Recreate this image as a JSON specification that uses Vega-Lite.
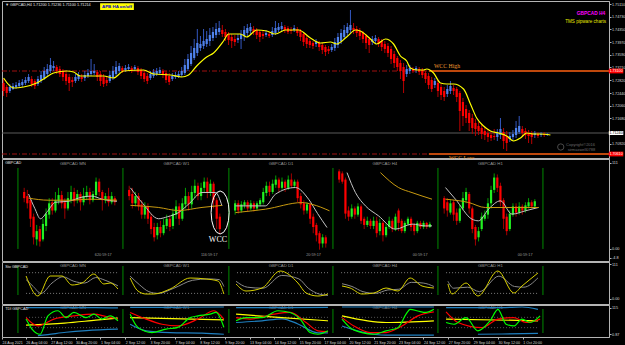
{
"$schema": "https://vega.github.io/schema/vega-lite/v6.json",
"background": "#000000",
"padding": 0,
"bounds": "flush",
"spacing": 1,
"config": {
 "view": {"stroke": "#b4b4b4", "strokeWidth": 1},
 "axis": {"grid": false, "labelFont": "Liberation Sans", "labelColor": "#d8d8d8", "domainColor": "#b4b4b4", "tickColor": "#b4b4b4", "title": null, "tickSize": 2, "labelPadding": 0.5, "labelFontSize": 3.8, "labelOverlap": false, "labelBound": false, "labelFlush": false, "tickCount": 60},
 "text": {"font": "Liberation Sans"}
},
"resolve": {"scale": {"x": "independent", "y": "independent", "color": "independent"}},
"datasets": {
 "hc": [
{"i":0,"o":1.7274,"c":1.7250,"h":1.7286,"l":1.7235},
{"i":1,"o":1.7262,"c":1.7244,"h":1.7268,"l":1.7232},
{"i":2,"o":1.7250,"c":1.7262,"h":1.7271,"l":1.7244},
{"i":3,"o":1.7256,"c":1.7265,"h":1.7274,"l":1.7253},
{"i":4,"o":1.7262,"c":1.7268,"h":1.7277,"l":1.7256},
{"i":5,"o":1.7265,"c":1.7274,"h":1.7283,"l":1.7259},
{"i":6,"o":1.7268,"c":1.7277,"h":1.7286,"l":1.7262},
{"i":7,"o":1.7274,"c":1.7283,"h":1.7292,"l":1.7268},
{"i":8,"o":1.7280,"c":1.7292,"h":1.7301,"l":1.7274},
{"i":9,"o":1.7286,"c":1.7271,"h":1.7295,"l":1.7262},
{"i":10,"o":1.7280,"c":1.7265,"h":1.7286,"l":1.7256},
{"i":11,"o":1.7271,"c":1.7286,"h":1.7295,"l":1.7265},
{"i":12,"o":1.7280,"c":1.7298,"h":1.7310,"l":1.7274},
{"i":13,"o":1.7289,"c":1.7310,"h":1.7322,"l":1.7283},
{"i":14,"o":1.7301,"c":1.7316,"h":1.7331,"l":1.7295},
{"i":15,"o":1.7310,"c":1.7328,"h":1.7349,"l":1.7304},
{"i":16,"o":1.7319,"c":1.7325,"h":1.7340,"l":1.7310},
{"i":17,"o":1.7322,"c":1.7310,"h":1.7328,"l":1.7301},
{"i":18,"o":1.7316,"c":1.7301,"h":1.7325,"l":1.7292},
{"i":19,"o":1.7310,"c":1.7292,"h":1.7316,"l":1.7280},
{"i":20,"o":1.7301,"c":1.7280,"h":1.7310,"l":1.7268},
{"i":21,"o":1.7292,"c":1.7274,"h":1.7301,"l":1.7250},
{"i":22,"o":1.7283,"c":1.7277,"h":1.7292,"l":1.7262},
{"i":23,"o":1.7280,"c":1.7292,"h":1.7301,"l":1.7274},
{"i":24,"o":1.7286,"c":1.7298,"h":1.7307,"l":1.7280},
{"i":25,"o":1.7292,"c":1.7286,"h":1.7301,"l":1.7277},
{"i":26,"o":1.7289,"c":1.7298,"h":1.7310,"l":1.7280},
{"i":27,"o":1.7295,"c":1.7304,"h":1.7316,"l":1.7289},
{"i":28,"o":1.7301,"c":1.7310,"h":1.7346,"l":1.7295},
{"i":29,"o":1.7304,"c":1.7310,"h":1.7331,"l":1.7298},
{"i":30,"o":1.7307,"c":1.7292,"h":1.7313,"l":1.7280},
{"i":31,"o":1.7301,"c":1.7280,"h":1.7310,"l":1.7265},
{"i":32,"o":1.7292,"c":1.7271,"h":1.7301,"l":1.7262},
{"i":33,"o":1.7283,"c":1.7274,"h":1.7292,"l":1.7265},
{"i":34,"o":1.7280,"c":1.7298,"h":1.7310,"l":1.7274},
{"i":35,"o":1.7289,"c":1.7310,"h":1.7325,"l":1.7283},
{"i":36,"o":1.7301,"c":1.7322,"h":1.7340,"l":1.7295},
{"i":37,"o":1.7310,"c":1.7325,"h":1.7334,"l":1.7304},
{"i":38,"o":1.7319,"c":1.7310,"h":1.7325,"l":1.7304},
{"i":39,"o":1.7313,"c":1.7319,"h":1.7328,"l":1.7307},
{"i":40,"o":1.7316,"c":1.7322,"h":1.7331,"l":1.7310},
{"i":41,"o":1.7319,"c":1.7313,"h":1.7325,"l":1.7304},
{"i":42,"o":1.7316,"c":1.7322,"h":1.7328,"l":1.7310},
{"i":43,"o":1.7319,"c":1.7307,"h":1.7325,"l":1.7298},
{"i":44,"o":1.7313,"c":1.7295,"h":1.7319,"l":1.7286},
{"i":45,"o":1.7304,"c":1.7286,"h":1.7310,"l":1.7277},
{"i":46,"o":1.7295,"c":1.7280,"h":1.7304,"l":1.7271},
{"i":47,"o":1.7289,"c":1.7301,"h":1.7310,"l":1.7283},
{"i":48,"o":1.7295,"c":1.7307,"h":1.7316,"l":1.7289},
{"i":49,"o":1.7301,"c":1.7310,"h":1.7319,"l":1.7295},
{"i":50,"o":1.7304,"c":1.7313,"h":1.7322,"l":1.7298},
{"i":51,"o":1.7310,"c":1.7298,"h":1.7316,"l":1.7289},
{"i":52,"o":1.7304,"c":1.7283,"h":1.7310,"l":1.7274},
{"i":53,"o":1.7295,"c":1.7277,"h":1.7304,"l":1.7268},
{"i":54,"o":1.7286,"c":1.7295,"h":1.7304,"l":1.7280},
{"i":55,"o":1.7292,"c":1.7298,"h":1.7307,"l":1.7286},
{"i":56,"o":1.7295,"c":1.7301,"h":1.7310,"l":1.7289},
{"i":57,"o":1.7298,"c":1.7310,"h":1.7322,"l":1.7292},
{"i":58,"o":1.7304,"c":1.7328,"h":1.7346,"l":1.7298},
{"i":59,"o":1.7316,"c":1.7346,"h":1.7361,"l":1.7310},
{"i":60,"o":1.7331,"c":1.7364,"h":1.7385,"l":1.7325},
{"i":61,"o":1.7349,"c":1.7379,"h":1.7406,"l":1.7343},
{"i":62,"o":1.7364,"c":1.7394,"h":1.7436,"l":1.7355},
{"i":63,"o":1.7379,"c":1.7391,"h":1.7415,"l":1.7370},
{"i":64,"o":1.7385,"c":1.7400,"h":1.7436,"l":1.7376},
{"i":65,"o":1.7391,"c":1.7406,"h":1.7430,"l":1.7382},
{"i":66,"o":1.7400,"c":1.7418,"h":1.7439,"l":1.7385},
{"i":67,"o":1.7409,"c":1.7427,"h":1.7442,"l":1.7400},
{"i":68,"o":1.7418,"c":1.7436,"h":1.7454,"l":1.7409},
{"i":69,"o":1.7427,"c":1.7439,"h":1.7460,"l":1.7418},
{"i":70,"o":1.7433,"c":1.7421,"h":1.7448,"l":1.7412},
{"i":71,"o":1.7427,"c":1.7412,"h":1.7436,"l":1.7400},
{"i":72,"o":1.7421,"c":1.7403,"h":1.7427,"l":1.7388},
{"i":73,"o":1.7412,"c":1.7400,"h":1.7421,"l":1.7379},
{"i":74,"o":1.7406,"c":1.7397,"h":1.7418,"l":1.7385},
{"i":75,"o":1.7403,"c":1.7409,"h":1.7421,"l":1.7394},
{"i":76,"o":1.7406,"c":1.7421,"h":1.7433,"l":1.7376},
{"i":77,"o":1.7415,"c":1.7433,"h":1.7445,"l":1.7400},
{"i":78,"o":1.7424,"c":1.7439,"h":1.7451,"l":1.7415},
{"i":79,"o":1.7430,"c":1.7442,"h":1.7454,"l":1.7421},
{"i":80,"o":1.7436,"c":1.7427,"h":1.7445,"l":1.7418},
{"i":81,"o":1.7433,"c":1.7418,"h":1.7439,"l":1.7406},
{"i":82,"o":1.7427,"c":1.7412,"h":1.7433,"l":1.7397},
{"i":83,"o":1.7421,"c":1.7415,"h":1.7430,"l":1.7406},
{"i":84,"o":1.7418,"c":1.7424,"h":1.7433,"l":1.7412},
{"i":85,"o":1.7421,"c":1.7415,"h":1.7427,"l":1.7409},
{"i":86,"o":1.7418,"c":1.7430,"h":1.7442,"l":1.7412},
{"i":87,"o":1.7424,"c":1.7439,"h":1.7460,"l":1.7418},
{"i":88,"o":1.7433,"c":1.7442,"h":1.7454,"l":1.7427},
{"i":89,"o":1.7436,"c":1.7445,"h":1.7457,"l":1.7430},
{"i":90,"o":1.7442,"c":1.7433,"h":1.7448,"l":1.7424},
{"i":91,"o":1.7439,"c":1.7427,"h":1.7445,"l":1.7421},
{"i":92,"o":1.7433,"c":1.7430,"h":1.7442,"l":1.7421},
{"i":93,"o":1.7433,"c":1.7439,"h":1.7448,"l":1.7427},
{"i":94,"o":1.7436,"c":1.7424,"h":1.7442,"l":1.7415},
{"i":95,"o":1.7430,"c":1.7412,"h":1.7436,"l":1.7400},
{"i":96,"o":1.7421,"c":1.7397,"h":1.7427,"l":1.7385},
{"i":97,"o":1.7409,"c":1.7391,"h":1.7415,"l":1.7379},
{"i":98,"o":1.7400,"c":1.7388,"h":1.7406,"l":1.7379},
{"i":99,"o":1.7394,"c":1.7385,"h":1.7400,"l":1.7376},
{"i":100,"o":1.7391,"c":1.7397,"h":1.7406,"l":1.7382},
{"i":101,"o":1.7394,"c":1.7382,"h":1.7400,"l":1.7370},
{"i":102,"o":1.7388,"c":1.7373,"h":1.7394,"l":1.7361},
{"i":103,"o":1.7382,"c":1.7367,"h":1.7388,"l":1.7355},
{"i":104,"o":1.7376,"c":1.7370,"h":1.7385,"l":1.7361},
{"i":105,"o":1.7373,"c":1.7382,"h":1.7391,"l":1.7367},
{"i":106,"o":1.7379,"c":1.7397,"h":1.7409,"l":1.7370},
{"i":107,"o":1.7388,"c":1.7412,"h":1.7424,"l":1.7379},
{"i":108,"o":1.7400,"c":1.7424,"h":1.7436,"l":1.7391},
{"i":109,"o":1.7412,"c":1.7433,"h":1.7448,"l":1.7406},
{"i":110,"o":1.7424,"c":1.7442,"h":1.7454,"l":1.7415},
{"i":111,"o":1.7433,"c":1.7448,"h":1.7493,"l":1.7424},
{"i":112,"o":1.7439,"c":1.7433,"h":1.7454,"l":1.7421},
{"i":113,"o":1.7436,"c":1.7424,"h":1.7445,"l":1.7412},
{"i":114,"o":1.7430,"c":1.7415,"h":1.7439,"l":1.7403},
{"i":115,"o":1.7424,"c":1.7406,"h":1.7430,"l":1.7394},
{"i":116,"o":1.7415,"c":1.7394,"h":1.7421,"l":1.7376},
{"i":117,"o":1.7406,"c":1.7388,"h":1.7412,"l":1.7364},
{"i":118,"o":1.7397,"c":1.7406,"h":1.7415,"l":1.7388},
{"i":119,"o":1.7400,"c":1.7409,"h":1.7418,"l":1.7391},
{"i":120,"o":1.7406,"c":1.7391,"h":1.7412,"l":1.7382},
{"i":121,"o":1.7400,"c":1.7382,"h":1.7406,"l":1.7370},
{"i":122,"o":1.7391,"c":1.7376,"h":1.7400,"l":1.7364},
{"i":123,"o":1.7385,"c":1.7364,"h":1.7394,"l":1.7352},
{"i":124,"o":1.7376,"c":1.7346,"h":1.7385,"l":1.7331},
{"i":125,"o":1.7361,"c":1.7334,"h":1.7370,"l":1.7319},
{"i":126,"o":1.7349,"c":1.7322,"h":1.7355,"l":1.7310},
{"i":127,"o":1.7334,"c":1.7310,"h":1.7343,"l":1.7286},
{"i":128,"o":1.7322,"c":1.7280,"h":1.7334,"l":1.7244},
{"i":129,"o":1.7301,"c":1.7316,"h":1.7328,"l":1.7292},
{"i":130,"o":1.7310,"c":1.7319,"h":1.7328,"l":1.7301},
{"i":131,"o":1.7316,"c":1.7310,"h":1.7322,"l":1.7304},
{"i":132,"o":1.7313,"c":1.7319,"h":1.7325,"l":1.7304},
{"i":133,"o":1.7316,"c":1.7307,"h":1.7322,"l":1.7298},
{"i":134,"o":1.7313,"c":1.7298,"h":1.7319,"l":1.7289},
{"i":135,"o":1.7304,"c":1.7286,"h":1.7310,"l":1.7274},
{"i":136,"o":1.7295,"c":1.7268,"h":1.7304,"l":1.7256},
{"i":137,"o":1.7283,"c":1.7256,"h":1.7292,"l":1.7247},
{"i":138,"o":1.7268,"c":1.7280,"h":1.7289,"l":1.7259},
{"i":139,"o":1.7274,"c":1.7250,"h":1.7283,"l":1.7232},
{"i":140,"o":1.7262,"c":1.7238,"h":1.7271,"l":1.7223},
{"i":141,"o":1.7250,"c":1.7232,"h":1.7262,"l":1.7220},
{"i":142,"o":1.7241,"c":1.7256,"h":1.7268,"l":1.7232},
{"i":143,"o":1.7250,"c":1.7265,"h":1.7280,"l":1.7241},
{"i":144,"o":1.7259,"c":1.7250,"h":1.7268,"l":1.7238},
{"i":145,"o":1.7256,"c":1.7232,"h":1.7262,"l":1.7217},
{"i":146,"o":1.7244,"c":1.7190,"h":1.7250,"l":1.7130},
{"i":147,"o":1.7217,"c":1.7175,"h":1.7229,"l":1.7145},
{"i":148,"o":1.7196,"c":1.7169,"h":1.7208,"l":1.7154},
{"i":149,"o":1.7184,"c":1.7154,"h":1.7193,"l":1.7130},
{"i":150,"o":1.7169,"c":1.7139,"h":1.7181,"l":1.7121},
{"i":151,"o":1.7154,"c":1.7136,"h":1.7166,"l":1.7115},
{"i":152,"o":1.7145,"c":1.7130,"h":1.7157,"l":1.7118},
{"i":153,"o":1.7139,"c":1.7121,"h":1.7151,"l":1.7106},
{"i":154,"o":1.7130,"c":1.7118,"h":1.7142,"l":1.7103},
{"i":155,"o":1.7124,"c":1.7112,"h":1.7136,"l":1.7097},
{"i":156,"o":1.7118,"c":1.7109,"h":1.7130,"l":1.7100},
{"i":157,"o":1.7115,"c":1.7112,"h":1.7136,"l":1.7103},
{"i":158,"o":1.7112,"c":1.7124,"h":1.7136,"l":1.7100},
{"i":159,"o":1.7118,"c":1.7136,"h":1.7169,"l":1.7106},
{"i":160,"o":1.7127,"c":1.7100,"h":1.7139,"l":1.7076},
{"i":161,"o":1.7115,"c":1.7094,"h":1.7130,"l":1.7070},
{"i":162,"o":1.7106,"c":1.7115,"h":1.7127,"l":1.7097},
{"i":163,"o":1.7112,"c":1.7121,"h":1.7133,"l":1.7100},
{"i":164,"o":1.7118,"c":1.7139,"h":1.7160,"l":1.7109},
{"i":165,"o":1.7127,"c":1.7145,"h":1.7175,"l":1.7121},
{"i":166,"o":1.7136,"c":1.7124,"h":1.7145,"l":1.7112},
{"i":167,"o":1.7130,"c":1.7118,"h":1.7139,"l":1.7106},
{"i":168,"o":1.7124,"c":1.7115,"h":1.7133,"l":1.7094},
{"i":169,"o":1.7121,"c":1.7112,"h":1.7130,"l":1.7091},
{"i":170,"o":1.7118,"c":1.7124,"h":1.7130,"l":1.7109},
{"i":171,"o":1.7121,"c":1.7115,"h":1.7127,"l":1.7109},
{"i":172,"o":1.7118,"c":1.7121,"h":1.7127,"l":1.7112},
{"i":173,"o":1.7121,"c":1.7118,"h":1.7127,"l":1.7112},
{"i":174,"o":1.7118,"c":1.7121,"h":1.7124,"l":1.7115}
 ],
 "ma": [
{"i":0,"v":1.7289},{"i":3.2,"v":1.7259},{"i":6.4,"v":1.7262},{"i":10.6,"v":1.7274},{"i":12.8,"v":1.7286},{"i":16,"v":1.7304},{"i":20.2,"v":1.7310},{"i":22.4,"v":1.7307},{"i":24.6,"v":1.7295},{"i":28.8,"v":1.7295},{"i":32,"v":1.7295},{"i":35.2,"v":1.7289},{"i":38.4,"v":1.7310},{"i":44.8,"v":1.7313},{"i":48,"v":1.7301},{"i":53.4,"v":1.7298},{"i":57,"v":1.7292},{"i":59.2,"v":1.7298},{"i":61.8,"v":1.7325},{"i":65,"v":1.7352},{"i":67.2,"v":1.7364},{"i":70.4,"v":1.7400},{"i":72,"v":1.7421},{"i":75.8,"v":1.7421},{"i":77.8,"v":1.7412},{"i":81,"v":1.7433},{"i":84.2,"v":1.7430},{"i":87,"v":1.7421},{"i":90.2,"v":1.7433},{"i":94.4,"v":1.7433},{"i":98.2,"v":1.7409},{"i":101.4,"v":1.7394},{"i":104.6,"v":1.7397},{"i":106.6,"v":1.7391},{"i":109.8,"v":1.7412},{"i":112.6,"v":1.7433},{"i":114.2,"v":1.7430},{"i":117.4,"v":1.7406},{"i":119.4,"v":1.7391},{"i":122.2,"v":1.7406},{"i":124.8,"v":1.7391},{"i":127,"v":1.7355},{"i":129,"v":1.7340},{"i":130.2,"v":1.7319},{"i":132.2,"v":1.7313},{"i":134.4,"v":1.7313},{"i":135.4,"v":1.7316},{"i":137.6,"v":1.7304},{"i":139.8,"v":1.7274},{"i":141.8,"v":1.7271},{"i":144,"v":1.7271},{"i":147.2,"v":1.7256},{"i":149.4,"v":1.7211},{"i":151.4,"v":1.7169},{"i":153.6,"v":1.7145},{"i":155.8,"v":1.7130},{"i":158.4,"v":1.7124},{"i":161,"v":1.7115},{"i":163.2,"v":1.7100},{"i":165.4,"v":1.7109},{"i":167.4,"v":1.7124},{"i":169.6,"v":1.7121},{"i":171.8,"v":1.7121},{"i":175,"v":1.7118}
 ],
 "mc": [
{"x":7.1,"o":66,"c":60,"h":70,"l":56},{"x":8.1,"o":62,"c":55,"h":68,"l":50},{"x":9.1,"o":58,"c":40,"h":60,"l":32},{"x":10.1,"o":42,"c":22,"h":45,"l":15},{"x":11.1,"o":20,"c":28,"h":34,"l":14},{"x":12.1,"o":30,"c":18,"h":33,"l":13},{"x":13.1,"o":20,"c":35,"h":40,"l":18},{"x":14.1,"o":33,"c":45,"h":50,"l":28},{"x":15.1,"o":44,"c":55,"h":60,"l":40},{"x":16.1,"o":56,"c":48,"h":60,"l":44},{"x":17.1,"o":48,"c":58,"h":66,"l":46},{"x":18.1,"o":57,"c":63,"h":70,"l":54},{"x":19.1,"o":63,"c":55,"h":67,"l":50},{"x":20.1,"o":56,"c":50,"h":60,"l":40},{"x":21.1,"o":50,"c":60,"h":66,"l":48},{"x":22.1,"o":58,"c":66,"h":72,"l":55},{"x":23.1,"o":66,"c":57,"h":70,"l":52},{"x":24.1,"o":58,"c":64,"h":68,"l":55},{"x":25.1,"o":64,"c":56,"h":66,"l":48},{"x":26.1,"o":56,"c":62,"h":70,"l":53},{"x":27.1,"o":61,"c":66,"h":72,"l":58},{"x":28.1,"o":66,"c":58,"h":70,"l":54},{"x":29.1,"o":58,"c":64,"h":67,"l":56},{"x":30.1,"o":63,"c":76,"h":80,"l":60},{"x":31.1,"o":76,"c":66,"h":79,"l":62},{"x":32.1,"o":66,"c":58,"h":68,"l":48},{"x":33.1,"o":58,"c":62,"h":65,"l":55},{"x":34.1,"o":62,"c":56,"h":70,"l":52},{"x":35.1,"o":56,"c":62,"h":66,"l":54},{"x":36.1,"o":60,"c":56,"h":62,"l":53},
{"x":40.7,"o":68,"c":62,"h":72,"l":58},{"x":41.7,"o":64,"c":55,"h":70,"l":50},{"x":42.7,"o":55,"c":62,"h":66,"l":52},{"x":43.7,"o":62,"c":52,"h":65,"l":48},{"x":44.7,"o":54,"c":44,"h":58,"l":40},{"x":45.7,"o":44,"c":52,"h":56,"l":40},{"x":46.7,"o":52,"c":40,"h":55,"l":35},{"x":47.7,"o":42,"c":30,"h":45,"l":25},{"x":48.7,"o":32,"c":22,"h":36,"l":18},{"x":49.7,"o":24,"c":32,"h":36,"l":20},{"x":50.7,"o":32,"c":26,"h":38,"l":22},{"x":51.7,"o":26,"c":34,"h":40,"l":24},{"x":52.7,"o":33,"c":40,"h":44,"l":30},{"x":53.7,"o":40,"c":32,"h":43,"l":28},{"x":54.7,"o":33,"c":45,"h":50,"l":30},{"x":55.7,"o":44,"c":52,"h":58,"l":40},{"x":56.7,"o":52,"c":40,"h":55,"l":34},{"x":57.7,"o":40,"c":55,"h":60,"l":38},{"x":58.7,"o":54,"c":62,"h":70,"l":50},{"x":59.7,"o":62,"c":54,"h":66,"l":48},{"x":60.7,"o":54,"c":66,"h":72,"l":50},{"x":61.7,"o":65,"c":72,"h":78,"l":60},{"x":62.7,"o":72,"c":62,"h":75,"l":58},{"x":63.7,"o":62,"c":70,"h":75,"l":58},{"x":64.7,"o":70,"c":76,"h":80,"l":66},{"x":65.7,"o":76,"c":66,"h":80,"l":60},{"x":66.7,"o":66,"c":74,"h":78,"l":62},{"x":67.7,"o":74,"c":58,"h":76,"l":50},{"x":68.7,"o":58,"c":40,"h":60,"l":30},{"x":69.7,"o":42,"c":30,"h":45,"l":25},
{"x":74.6,"o":48,"c":55,"h":58,"l":44},{"x":75.6,"o":55,"c":48,"h":58,"l":45},{"x":76.6,"o":48,"c":54,"h":57,"l":46},{"x":77.6,"o":53,"c":56,"h":58,"l":50},{"x":78.6,"o":56,"c":50,"h":58,"l":47},{"x":79.6,"o":50,"c":55,"h":58,"l":48},{"x":80.6,"o":55,"c":50,"h":57,"l":47},{"x":81.6,"o":50,"c":55,"h":57,"l":48},{"x":82.6,"o":54,"c":58,"h":60,"l":52},{"x":83.6,"o":56,"c":66,"h":70,"l":54},{"x":84.6,"o":65,"c":72,"h":76,"l":62},{"x":85.6,"o":72,"c":66,"h":76,"l":62},{"x":86.6,"o":66,"c":74,"h":78,"l":64},{"x":87.6,"o":73,"c":78,"h":82,"l":70},{"x":88.6,"o":78,"c":70,"h":80,"l":66},{"x":89.6,"o":70,"c":76,"h":80,"l":68},{"x":90.6,"o":76,"c":70,"h":78,"l":66},{"x":91.6,"o":70,"c":78,"h":82,"l":68},{"x":92.6,"o":78,"c":72,"h":84,"l":70},{"x":93.6,"o":72,"c":76,"h":78,"l":70},{"x":94.6,"o":76,"c":60,"h":78,"l":56},{"x":95.6,"o":62,"c":54,"h":65,"l":50},{"x":96.6,"o":55,"c":48,"h":58,"l":44},{"x":97.6,"o":48,"c":54,"h":56,"l":45},{"x":98.6,"o":54,"c":40,"h":56,"l":35},{"x":99.6,"o":42,"c":32,"h":45,"l":26},{"x":100.6,"o":34,"c":24,"h":36,"l":18},{"x":101.6,"o":26,"c":16,"h":28,"l":10},{"x":102.6,"o":16,"c":22,"h":25,"l":12},{"x":103.6,"o":22,"c":16,"h":24,"l":12},
{"x":107.9,"o":86,"c":78,"h":88,"l":75},{"x":108.9,"o":84,"c":76,"h":86,"l":74},{"x":109.9,"o":78,"c":45,"h":80,"l":40},{"x":110.9,"o":48,"c":42,"h":52,"l":38},{"x":111.9,"o":42,"c":50,"h":54,"l":40},{"x":112.9,"o":50,"c":44,"h":52,"l":40},{"x":113.9,"o":44,"c":52,"h":55,"l":42},{"x":114.9,"o":52,"c":38,"h":54,"l":35},{"x":115.9,"o":40,"c":34,"h":42,"l":30},{"x":116.9,"o":34,"c":38,"h":42,"l":32},{"x":117.9,"o":38,"c":33,"h":40,"l":30},{"x":118.9,"o":33,"c":38,"h":42,"l":30},{"x":119.9,"o":38,"c":26,"h":42,"l":22},{"x":120.9,"o":28,"c":36,"h":40,"l":24},{"x":121.9,"o":36,"c":24,"h":38,"l":18},{"x":122.9,"o":24,"c":32,"h":35,"l":22},{"x":123.9,"o":32,"c":38,"h":42,"l":30},{"x":124.9,"o":38,"c":30,"h":40,"l":27},{"x":125.9,"o":30,"c":42,"h":45,"l":28},{"x":126.9,"o":48,"c":36,"h":50,"l":28},{"x":127.9,"o":38,"c":28,"h":40,"l":26},{"x":128.9,"o":28,"c":36,"h":38,"l":26},{"x":129.9,"o":35,"c":40,"h":42,"l":33},{"x":130.9,"o":40,"c":32,"h":42,"l":28},{"x":131.9,"o":34,"c":28,"h":36,"l":24},{"x":132.9,"o":28,"c":36,"h":38,"l":26},{"x":133.9,"o":36,"c":32,"h":38,"l":30},{"x":134.9,"o":32,"c":36,"h":38,"l":30},{"x":135.9,"o":36,"c":32,"h":37,"l":30},{"x":136.9,"o":32,"c":35,"h":37,"l":31},
{"x":141.5,"o":60,"c":50,"h":62,"l":45},{"x":142.5,"o":56,"c":48,"h":60,"l":42},{"x":143.5,"o":46,"c":55,"h":58,"l":44},{"x":144.5,"o":56,"c":44,"h":58,"l":38},{"x":145.5,"o":46,"c":38,"h":50,"l":34},{"x":146.5,"o":38,"c":50,"h":54,"l":36},{"x":147.5,"o":50,"c":60,"h":66,"l":48},{"x":148.5,"o":58,"c":66,"h":70,"l":55},{"x":149.5,"o":64,"c":50,"h":66,"l":45},{"x":150.5,"o":50,"c":30,"h":52,"l":26},{"x":151.5,"o":32,"c":20,"h":34,"l":14},{"x":152.5,"o":22,"c":28,"h":32,"l":18},{"x":153.5,"o":30,"c":42,"h":46,"l":28},{"x":154.5,"o":40,"c":44,"h":48,"l":38},{"x":155.5,"o":44,"c":55,"h":60,"l":40},{"x":156.5,"o":55,"c":68,"h":72,"l":50},{"x":157.5,"o":68,"c":80,"h":84,"l":65},{"x":158.5,"o":80,"c":70,"h":83,"l":66},{"x":159.5,"o":72,"c":56,"h":75,"l":52},{"x":160.5,"o":58,"c":40,"h":60,"l":30},{"x":161.5,"o":42,"c":28,"h":45,"l":24},{"x":162.5,"o":30,"c":45,"h":48,"l":28},{"x":163.5,"o":44,"c":52,"h":55,"l":42},{"x":164.5,"o":52,"c":46,"h":55,"l":42},{"x":165.5,"o":46,"c":52,"h":56,"l":44},{"x":166.5,"o":52,"c":48,"h":54,"l":44},{"x":167.5,"o":48,"c":53,"h":56,"l":46},{"x":168.5,"o":52,"c":56,"h":60,"l":50},{"x":169.5,"o":56,"c":52,"h":58,"l":50},{"x":170.5,"o":52,"c":57,"h":59,"l":50}
 ],
 "ml": [
{"p":"MN","s":"w","x":8.5,"v":64},{"p":"MN","s":"w","x":10.5,"v":50},{"p":"MN","s":"w","x":12.3,"v":40},{"p":"MN","s":"w","x":14.5,"v":47},{"p":"MN","s":"w","x":17.1,"v":56},{"p":"MN","s":"w","x":21.3,"v":57},{"p":"MN","s":"w","x":25.6,"v":61},{"p":"MN","s":"w","x":28.8,"v":62},{"p":"MN","s":"w","x":32,"v":59},{"p":"MN","s":"w","x":36.8,"v":57},
{"p":"MN","s":"g","x":8.5,"v":60},{"p":"MN","s":"g","x":15,"v":58},{"p":"MN","s":"g","x":22,"v":58},{"p":"MN","s":"g","x":28,"v":59},{"p":"MN","s":"g","x":36.8,"v":58},
{"p":"W1","s":"w","x":41.1,"v":70},{"p":"W1","s":"w","x":45,"v":55},{"p":"W1","s":"w","x":50.1,"v":40},{"p":"W1","s":"w","x":53,"v":42},{"p":"W1","s":"w","x":56.5,"v":46},{"p":"W1","s":"w","x":60,"v":55},{"p":"W1","s":"w","x":64,"v":65.5},{"p":"W1","s":"w","x":68.3,"v":65.5},{"p":"W1","s":"w","x":70.4,"v":52.5},
{"p":"W1","s":"g","x":41.1,"v":53},{"p":"W1","s":"g","x":50,"v":51},{"p":"W1","s":"g","x":56.5,"v":48},{"p":"W1","s":"g","x":64,"v":51},{"p":"W1","s":"g","x":70.4,"v":53},
{"p":"D1","s":"w","x":74.7,"v":52.5},{"p":"D1","s":"w","x":84.3,"v":52.5},{"p":"D1","s":"w","x":87.5,"v":63.8},{"p":"D1","s":"w","x":93.9,"v":70.3},{"p":"D1","s":"w","x":98.1,"v":59},{"p":"D1","s":"w","x":101,"v":45},{"p":"D1","s":"w","x":104,"v":31.5},
{"p":"D1","s":"g","x":74.7,"v":46},{"p":"D1","s":"g","x":84.3,"v":49.3},{"p":"D1","s":"g","x":96,"v":55.7},{"p":"D1","s":"g","x":99.2,"v":54},{"p":"D1","s":"g","x":104.8,"v":47.7},
{"p":"H4","s":"w","x":110.4,"v":84.8},{"p":"H4","s":"w","x":113.1,"v":65.4},{"p":"H4","s":"w","x":116.3,"v":52.5},{"p":"H4","s":"w","x":120.5,"v":42.8},{"p":"H4","s":"w","x":125.9,"v":29.9},{"p":"H4","s":"w","x":131.2,"v":34.8},{"p":"H4","s":"w","x":135.5,"v":33.1},{"p":"H4","s":"w","x":137.6,"v":33.1},
{"p":"H4","s":"g","x":121.1,"v":84.8},{"p":"H4","s":"g","x":126.9,"v":70.3},{"p":"H4","s":"g","x":131.2,"v":65.4},{"p":"H4","s":"g","x":137.6,"v":59},
{"p":"H1","s":"w","x":141.9,"v":70.3},{"p":"H1","s":"w","x":145.1,"v":59},{"p":"H1","s":"w","x":150.4,"v":39.6},{"p":"H1","s":"w","x":152.5,"v":38},{"p":"H1","s":"w","x":155.7,"v":49.3},{"p":"H1","s":"w","x":159.5,"v":57.4},{"p":"H1","s":"w","x":163.2,"v":44.5},{"p":"H1","s":"w","x":167.5,"v":47.7},{"p":"H1","s":"w","x":171.7,"v":51},
{"p":"H1","s":"g","x":141.9,"v":59},{"p":"H1","s":"g","x":149.3,"v":55.8},{"p":"H1","s":"g","x":154.7,"v":50.9},{"p":"H1","s":"g","x":165.3,"v":50.9},{"p":"H1","s":"g","x":171.7,"v":50.9}
 ],
 "sto": [
{"p":"MN","s":"sig","x":7.7,"v":60},{"p":"MN","s":"sig","x":10,"v":40},{"p":"MN","s":"sig","x":12.5,"v":20},{"p":"MN","s":"sig","x":16,"v":50},{"p":"MN","s":"sig","x":19.5,"v":68},{"p":"MN","s":"sig","x":23,"v":55},{"p":"MN","s":"sig","x":26.5,"v":50},{"p":"MN","s":"sig","x":30,"v":66},{"p":"MN","s":"sig","x":33,"v":58},{"p":"MN","s":"sig","x":37.1,"v":42},
{"p":"W1","s":"sig","x":41,"v":70},{"p":"W1","s":"sig","x":44,"v":45},{"p":"W1","s":"sig","x":47,"v":25},{"p":"W1","s":"sig","x":50,"v":20},{"p":"W1","s":"sig","x":55,"v":35},{"p":"W1","s":"sig","x":61,"v":58},{"p":"W1","s":"sig","x":66,"v":62},{"p":"W1","s":"sig","x":69.5,"v":60},{"p":"W1","s":"sig","x":71,"v":40},
{"p":"D1","s":"sig","x":74.9,"v":55},{"p":"D1","s":"sig","x":78.5,"v":38},{"p":"D1","s":"sig","x":83.5,"v":35},{"p":"D1","s":"sig","x":89.5,"v":72},{"p":"D1","s":"sig","x":95,"v":62},{"p":"D1","s":"sig","x":98,"v":35},{"p":"D1","s":"sig","x":101.5,"v":18},{"p":"D1","s":"sig","x":104.3,"v":14},
{"p":"H4","s":"sig","x":108.8,"v":48},{"p":"H4","s":"sig","x":112,"v":40},{"p":"H4","s":"sig","x":115.5,"v":25},{"p":"H4","s":"sig","x":119.5,"v":20},{"p":"H4","s":"sig","x":123.5,"v":30},{"p":"H4","s":"sig","x":127,"v":32},{"p":"H4","s":"sig","x":131,"v":52},{"p":"H4","s":"sig","x":134.8,"v":50},{"p":"H4","s":"sig","x":138.2,"v":40},
{"p":"H1","s":"sig","x":142.7,"v":55},{"p":"H1","s":"sig","x":144.5,"v":35},{"p":"H1","s":"sig","x":149,"v":38},{"p":"H1","s":"sig","x":152.8,"v":25},{"p":"H1","s":"sig","x":159,"v":70},{"p":"H1","s":"sig","x":164,"v":40},{"p":"H1","s":"sig","x":167,"v":38},{"p":"H1","s":"sig","x":171.5,"v":65},
{"p":"MN","s":"main","x":7.7,"v":70.4},{"p":"MN","s":"main","x":11.5,"v":12.4},{"p":"MN","s":"main","x":15.4,"v":70.4},{"p":"MN","s":"main","x":19.2,"v":70.4},{"p":"MN","s":"main","x":22.4,"v":44.3},{"p":"MN","s":"main","x":25.6,"v":50.1},{"p":"MN","s":"main","x":29.4,"v":76.2},{"p":"MN","s":"main","x":32.6,"v":47.2},{"p":"MN","s":"main","x":34.6,"v":50.1},{"p":"MN","s":"main","x":37.1,"v":32.7},
{"p":"W1","s":"main","x":41,"v":64.6},{"p":"W1","s":"main","x":43.5,"v":26.9},{"p":"W1","s":"main","x":46.1,"v":18.2},{"p":"W1","s":"main","x":48.6,"v":18.2},{"p":"W1","s":"main","x":53.8,"v":32.7},{"p":"W1","s":"main","x":60.2,"v":64.6},{"p":"W1","s":"main","x":65.3,"v":61.7},{"p":"W1","s":"main","x":69.1,"v":55.9},{"p":"W1","s":"main","x":71,"v":18.2},
{"p":"D1","s":"main","x":74.9,"v":47.2},{"p":"D1","s":"main","x":78.1,"v":26.9},{"p":"D1","s":"main","x":83.2,"v":35.6},{"p":"D1","s":"main","x":89,"v":84.9},{"p":"D1","s":"main","x":94.7,"v":50.1},{"p":"D1","s":"main","x":97.3,"v":21.1},{"p":"D1","s":"main","x":101.1,"v":12.4},{"p":"D1","s":"main","x":104.3,"v":18.2},
{"p":"H4","s":"main","x":108.8,"v":41.4},{"p":"H4","s":"main","x":111.4,"v":35.6},{"p":"H4","s":"main","x":115.2,"v":18.2},{"p":"H4","s":"main","x":119,"v":21.1},{"p":"H4","s":"main","x":122.9,"v":35.6},{"p":"H4","s":"main","x":126.7,"v":26.9},{"p":"H4","s":"main","x":130.6,"v":64.6},{"p":"H4","s":"main","x":134.4,"v":41.4},{"p":"H4","s":"main","x":138.2,"v":35.6},
{"p":"H1","s":"main","x":142.7,"v":47.2},{"p":"H1","s":"main","x":144,"v":18.2},{"p":"H1","s":"main","x":148.5,"v":50.1},{"p":"H1","s":"main","x":152.3,"v":12.4},{"p":"H1","s":"main","x":158.7,"v":84.9},{"p":"H1","s":"main","x":163.8,"v":21.1},{"p":"H1","s":"main","x":166.4,"v":41.4},{"p":"H1","s":"main","x":171.5,"v":79.1}
 ],
 "tdi": [
{"p":"MN","s":"up","x":7.7,"v":102},{"p":"MN","s":"up","x":20,"v":102},{"p":"MN","s":"up","x":30,"v":102},{"p":"MN","s":"up","x":37.1,"v":101},
{"p":"MN","s":"lo","x":11.5,"v":4},{"p":"MN","s":"lo","x":14.7,"v":8},{"p":"MN","s":"lo","x":20.5,"v":16},{"p":"MN","s":"lo","x":27,"v":22},{"p":"MN","s":"lo","x":37.1,"v":27},
{"p":"W1","s":"up","x":41,"v":103},{"p":"W1","s":"up","x":55,"v":103},{"p":"W1","s":"up","x":71,"v":104},
{"p":"W1","s":"lo","x":41,"v":44},{"p":"W1","s":"lo","x":46.1,"v":21},{"p":"W1","s":"lo","x":53.8,"v":15},{"p":"W1","s":"lo","x":64,"v":13},{"p":"W1","s":"lo","x":71,"v":9},
{"p":"D1","s":"up","x":74.9,"v":102},{"p":"D1","s":"up","x":90,"v":102},{"p":"D1","s":"up","x":104.3,"v":103},
{"p":"D1","s":"lo","x":74.9,"v":50},{"p":"D1","s":"lo","x":83.2,"v":56},{"p":"D1","s":"lo","x":89.6,"v":63},{"p":"D1","s":"lo","x":94.7,"v":45},{"p":"D1","s":"lo","x":101.1,"v":14},{"p":"D1","s":"lo","x":104.3,"v":14},
{"p":"H4","s":"up","x":108.8,"v":104},{"p":"H4","s":"up","x":122.9,"v":104},{"p":"H4","s":"up","x":138.2,"v":104},
{"p":"H4","s":"lo","x":108.8,"v":38},{"p":"H4","s":"lo","x":115.2,"v":17},{"p":"H4","s":"lo","x":122.9,"v":6},{"p":"H4","s":"lo","x":138.2,"v":6},
{"p":"H1","s":"up","x":142.1,"v":102},{"p":"H1","s":"up","x":160,"v":102},{"p":"H1","s":"up","x":166.4,"v":104},{"p":"H1","s":"up","x":171.5,"v":96},
{"p":"H1","s":"lo","x":152.3,"v":9},{"p":"H1","s":"lo","x":160,"v":10},{"p":"H1","s":"lo","x":171.5,"v":12},
{"p":"MN","s":"mb","x":7.7,"v":41},{"p":"MN","s":"mb","x":20,"v":48},{"p":"MN","s":"mb","x":30,"v":58},{"p":"MN","s":"mb","x":37.1,"v":65},
{"p":"W1","s":"mb","x":41,"v":67},{"p":"W1","s":"mb","x":71,"v":59},
{"p":"D1","s":"mb","x":74.9,"v":79},{"p":"D1","s":"mb","x":89.6,"v":67},{"p":"D1","s":"mb","x":104.3,"v":56},
{"p":"H4","s":"mb","x":108.8,"v":73},{"p":"H4","s":"mb","x":122.9,"v":50},{"p":"H4","s":"mb","x":138.2,"v":56},
{"p":"H1","s":"mb","x":142.1,"v":62},{"p":"H1","s":"mb","x":171.5,"v":56},
{"p":"MN","s":"sig","x":7.7,"v":67},{"p":"MN","s":"sig","x":11.5,"v":38},{"p":"MN","s":"sig","x":16.6,"v":62},{"p":"MN","s":"sig","x":23,"v":73},{"p":"MN","s":"sig","x":29.4,"v":79},{"p":"MN","s":"sig","x":33.3,"v":71},{"p":"MN","s":"sig","x":37.1,"v":62},
{"p":"W1","s":"sig","x":41,"v":85},{"p":"W1","s":"sig","x":46.1,"v":62},{"p":"W1","s":"sig","x":51.2,"v":44},{"p":"W1","s":"sig","x":56.3,"v":38},{"p":"W1","s":"sig","x":62.7,"v":62},{"p":"W1","s":"sig","x":67.8,"v":91},{"p":"W1","s":"sig","x":71,"v":62},
{"p":"D1","s":"sig","x":74.9,"v":67},{"p":"D1","s":"sig","x":79.4,"v":62},{"p":"D1","s":"sig","x":87,"v":79},{"p":"D1","s":"sig","x":92.2,"v":85},{"p":"D1","s":"sig","x":97.3,"v":50},{"p":"D1","s":"sig","x":101.1,"v":21},{"p":"D1","s":"sig","x":104.3,"v":18},
{"p":"H4","s":"sig","x":108.8,"v":67},{"p":"H4","s":"sig","x":112.6,"v":38},{"p":"H4","s":"sig","x":117.8,"v":15},{"p":"H4","s":"sig","x":122.9,"v":15},{"p":"H4","s":"sig","x":128,"v":38},{"p":"H4","s":"sig","x":133.1,"v":73},{"p":"H4","s":"sig","x":138.2,"v":87},
{"p":"H1","s":"sig","x":142.1,"v":87},{"p":"H1","s":"sig","x":145.9,"v":50},{"p":"H1","s":"sig","x":153.6,"v":32},{"p":"H1","s":"sig","x":158.7,"v":62},{"p":"H1","s":"sig","x":163.8,"v":67},{"p":"H1","s":"sig","x":167.7,"v":50},{"p":"H1","s":"sig","x":172.2,"v":62},
{"p":"MN","s":"rsi","x":7.7,"v":62},{"p":"MN","s":"rsi","x":9.6,"v":27},{"p":"MN","s":"rsi","x":12.2,"v":9},{"p":"MN","s":"rsi","x":14.7,"v":73},{"p":"MN","s":"rsi","x":17.9,"v":91},{"p":"MN","s":"rsi","x":20.5,"v":67},{"p":"MN","s":"rsi","x":23,"v":85},{"p":"MN","s":"rsi","x":26.9,"v":67},{"p":"MN","s":"rsi","x":29.4,"v":79},{"p":"MN","s":"rsi","x":32,"v":62},{"p":"MN","s":"rsi","x":34.6,"v":73},{"p":"MN","s":"rsi","x":37.1,"v":56},
{"p":"W1","s":"rsi","x":41,"v":79},{"p":"W1","s":"rsi","x":43.5,"v":33},{"p":"W1","s":"rsi","x":48,"v":15},{"p":"W1","s":"rsi","x":52.5,"v":27},{"p":"W1","s":"rsi","x":56.3,"v":33},{"p":"W1","s":"rsi","x":60.2,"v":67},{"p":"W1","s":"rsi","x":62.7,"v":73},{"p":"W1","s":"rsi","x":66.6,"v":79},{"p":"W1","s":"rsi","x":68.5,"v":85},{"p":"W1","s":"rsi","x":71,"v":33},
{"p":"D1","s":"rsi","x":74.9,"v":56},{"p":"D1","s":"rsi","x":78.1,"v":67},{"p":"D1","s":"rsi","x":83.2,"v":67},{"p":"D1","s":"rsi","x":88.3,"v":91},{"p":"D1","s":"rsi","x":92.2,"v":85},{"p":"D1","s":"rsi","x":95.4,"v":62},{"p":"D1","s":"rsi","x":98.6,"v":15},{"p":"D1","s":"rsi","x":101.1,"v":9},{"p":"D1","s":"rsi","x":104.3,"v":21},
{"p":"H4","s":"rsi","x":108.8,"v":62},{"p":"H4","s":"rsi","x":111.4,"v":32},{"p":"H4","s":"rsi","x":115.2,"v":15},{"p":"H4","s":"rsi","x":119,"v":9},{"p":"H4","s":"rsi","x":122.9,"v":21},{"p":"H4","s":"rsi","x":126.7,"v":32},{"p":"H4","s":"rsi","x":129.3,"v":79},{"p":"H4","s":"rsi","x":130.6,"v":96},{"p":"H4","s":"rsi","x":133.1,"v":90},{"p":"H4","s":"rsi","x":135.7,"v":85},{"p":"H4","s":"rsi","x":138.2,"v":96},
{"p":"H1","s":"rsi","x":142.1,"v":50},{"p":"H1","s":"rsi","x":144.6,"v":44},{"p":"H1","s":"rsi","x":148.5,"v":67},{"p":"H1","s":"rsi","x":152.3,"v":21},{"p":"H1","s":"rsi","x":156.2,"v":56},{"p":"H1","s":"rsi","x":158.7,"v":96},{"p":"H1","s":"rsi","x":161.3,"v":44},{"p":"H1","s":"rsi","x":163.8,"v":38},{"p":"H1","s":"rsi","x":166.4,"v":62},{"p":"H1","s":"rsi","x":169,"v":50},{"p":"H1","s":"rsi","x":172.2,"v":73}
 ],
 "gl": [{"x":5.1},{"x":38.7},{"x":72.6},{"x":105.9},{"x":139.5},{"x":173.1}],
 "tt": [{"x":22.7,"t":"GBPCAD MN"},{"x":55.8,"t":"GBPCAD W1"},{"x":89.3,"t":"GBPCAD D1"},{"x":122.5,"t":"GBPCAD H4"},{"x":156.3,"t":"GBPCAD H1"}],
 "pn": [{"a":7.7,"b":37.1},{"a":41.3,"b":70.7},{"a":75.2,"b":104.6},{"a":108.5,"b":137.9},{"a":142.1,"b":171.5}],
 "cd": [{"x":32.4,"t":"620:59:17"},{"x":66.3,"t":"116:59:17"},{"x":99.7,"t":"20:59:17"},{"x":133.8,"t":"00:59:17"},{"x":167.4,"t":"00:59:17"}]
},
"vconcat": [
{
 "width": 607, "height": 157,
 "layer": [
  {"data": {"values": [{"a":-0.5,"b":136.1,"y":1.7310},{"a":-0.5,"b":136.1,"y":1.7061}]},
   "mark": {"type":"rule","color":"#a01010","strokeDash":[5,2,1,2],"strokeWidth":1},
   "encoding": {"x":{"field":"a","type":"quantitative","scale":{"domain":[-0.5,193.74],"nice":false,"zero":false},"axis":null},"x2":{"field":"b"},
    "y":{"field":"y","type":"quantitative","scale":{"domain":[1.7049,1.7520],"nice":false,"zero":false},
     "axis":{"orient":"right","values":[1.7511,1.7473,1.7435,1.7397,1.7359,1.7321,1.7282,1.7244,1.7206,1.7168,1.7092],"format":".5f","labelFontSize":3.7,"labelOverlap":false,"tickCount":60}}}},
  {"data": {"values": [{"a":136.1,"b":193.74,"y":1.7310},{"a":136.1,"b":193.74,"y":1.7061}]},
   "mark": {"type":"rule","color":"#ff6010","strokeWidth":1.5},
   "encoding": {"x":{"field":"a","type":"quantitative"},"x2":{"field":"b"},"y":{"field":"y","type":"quantitative"}}},
  {"data": {"values": [{}]},
   "mark": {"type":"rule","color":"#5a5a5a","strokeWidth":1},
   "encoding": {"y":{"datum":1.7124}}},
  {"data": {"name":"hc"},
   "mark": {"type":"rule","strokeWidth":1},
   "encoding": {"x":{"field":"i","type":"quantitative"},"y":{"field":"l","type":"quantitative"},"y2":{"field":"h"},
    "color":{"condition":{"test":"datum.c > datum.o","value":"#3458c0"},"value":"#b80000"}}},
  {"data": {"name":"hc"},
   "mark": {"type":"rule","strokeWidth":2.2},
   "encoding": {"x":{"field":"i","type":"quantitative"},"y":{"field":"o","type":"quantitative"},"y2":{"field":"c"},
    "color":{"condition":{"test":"datum.c > datum.o","value":"#4f82ec"},"value":"#ff0000"}}},
  {"data": {"name":"ma"},
   "mark": {"type":"line","color":"#ffff00","strokeWidth":1.2,"interpolate":"monotone"},
   "encoding": {"x":{"field":"i","type":"quantitative"},"y":{"field":"v","type":"quantitative"}}},
  {"data": {"values": [{"x":0.5,"y":1.7508,"t":"▼ GBPCAD,H4  1.71200 1.71236 1.71100 1.71214"}]},
   "mark": {"type":"text","align":"left","baseline":"middle","fontSize":3.8,"color":"#e0e0e0"},
   "encoding": {"x":{"field":"x","type":"quantitative"},"y":{"field":"y","type":"quantitative"},"text":{"field":"t"}}},
  {"data": {"values": [{"a":30.9,"b":41.7,"y1":1.7513,"y2":1.7493}]},
   "mark": {"type":"rect","color":"#ffff00"},
   "encoding": {"x":{"field":"a","type":"quantitative"},"x2":{"field":"b"},"y":{"field":"y1","type":"quantitative"},"y2":{"field":"y2"}}},
  {"data": {"values": [{"x":36.3,"y":1.7503,"t":"APB HA on/off"}]},
   "mark": {"type":"text","align":"center","baseline":"middle","fontSize":4.4,"fontWeight":"bold","color":"#0000c8"},
   "encoding": {"x":{"field":"x","type":"quantitative"},"y":{"field":"y","type":"quantitative"},"text":{"field":"t"}}},
  {"data": {"values": [{"x":192.5,"y":1.7481,"t":"GBPCAD H4"}]},
   "mark": {"type":"text","align":"right","baseline":"middle","fontSize":4.8,"fontWeight":"bold","color":"#ff00ff"},
   "encoding": {"x":{"field":"x","type":"quantitative"},"y":{"field":"y","type":"quantitative"},"text":{"field":"t"}}},
  {"data": {"values": [{"x":192.8,"y":1.7457,"t":"TMS pipware charts"}]},
   "mark": {"type":"text","align":"right","baseline":"middle","fontSize":4.6,"color":"#e8e800"},
   "encoding": {"x":{"field":"x","type":"quantitative"},"y":{"field":"y","type":"quantitative"},"text":{"field":"t"}}},
  {"data": {"values": [{"x":180,"y":1.7088,"t":"Copyright©2016"},{"x":180.5,"y":1.7073,"t":"sirmaxwell0788"}]},
   "mark": {"type":"text","align":"left","baseline":"middle","fontSize":4,"color":"#6a6a6a"},
   "encoding": {"x":{"field":"x","type":"quantitative"},"y":{"field":"y","type":"quantitative"},"text":{"field":"t"}}},
  {"data": {"values": [{"x":178.3,"y":1.7082}]},
   "mark": {"type":"point","shape":"circle","size":40,"color":"#6a6a6a","strokeWidth":1},
   "encoding": {"x":{"field":"x","type":"quantitative"},"y":{"field":"y","type":"quantitative"}}},
  {"data": {"values": [{"x":137.7,"y":1.7326,"t":"WCC High"},{"x":142.5,"y":1.7050,"t":"WCC Low"}]},
   "mark": {"type":"text","align":"left","baseline":"middle","fontSize":5.8,"font":"Liberation Serif","color":"#f09a30"},
   "encoding": {"x":{"field":"x","type":"quantitative"},"y":{"field":"y","type":"quantitative"},"text":{"field":"t"}}},
  {"data": {"values": [{"x":196.0,"y":1.7310},{"x":196.0,"y":1.7061}]},
   "mark": {"type":"point","shape":"M-1,-0.33L1,-0.33L1,0.33L-1,0.33Z","filled":true,"size":210,"color":"#ff0000","opacity":1},
   "encoding": {"x":{"field":"x","type":"quantitative"},"y":{"field":"y","type":"quantitative"}}},
  {"data": {"values": [{"x":196.0,"y":1.7124}]},
   "mark": {"type":"point","shape":"M-1,-0.28L1,-0.28L1,0.28L-1,0.28Z","filled":true,"size":210,"color":"#ffffff","opacity":1},
   "encoding": {"x":{"field":"x","type":"quantitative"},"y":{"field":"y","type":"quantitative"}}},
  {"data": {"values": [{"x":196.0,"y":1.7310,"t":"1.73100"},{"x":196.0,"y":1.7061,"t":"1.70610"}]},
   "mark": {"type":"text","align":"center","baseline":"middle","fontSize":3.7,"color":"#ffffff"},
   "encoding": {"x":{"field":"x","type":"quantitative"},"y":{"field":"y","type":"quantitative"},"text":{"field":"t"}}},
  {"data": {"values": [{"x":196.0,"y":1.7124,"t":"1.71240"}]},
   "mark": {"type":"text","align":"center","baseline":"middle","fontSize":3.7,"color":"#000000"},
   "encoding": {"x":{"field":"x","type":"quantitative"},"y":{"field":"y","type":"quantitative"},"text":{"field":"t"}}}
 ]
},
{
 "width": 607, "height": 102,
 "layer": [
  {"data": {"name":"gl"},
   "mark": {"type":"rule","color":"#008a00","strokeWidth":1},
   "encoding": {"x":{"field":"x","type":"quantitative","scale":{"domain":[0,194.24],"nice":false,"zero":false},"axis":null},
    "y":{"datum":10.7,"type":"quantitative","scale":{"domain":[-1,98],"nice":false,"zero":false},
     "axis":{"orient":"right","values":[94.5,10.7,2],"labelExpr":"datum.value > 50 ? '111' : (datum.value > 5 ? '0.00' : '-4.8')","labelOverlap":false,"tickCount":60}},
    "y2":{"datum":89.3}}},
  {"data": {"name":"mc"},
   "mark": {"type":"rule","strokeWidth":1},
   "encoding": {"x":{"field":"x","type":"quantitative"},"y":{"field":"l","type":"quantitative"},"y2":{"field":"h"},
    "color":{"condition":{"test":"datum.c > datum.o","value":"#00a000"},"value":"#a00000"}}},
  {"data": {"name":"mc"},
   "mark": {"type":"rule","strokeWidth":2.2},
   "encoding": {"x":{"field":"x","type":"quantitative"},"y":{"field":"o","type":"quantitative"},"y2":{"field":"c"},
    "color":{"condition":{"test":"datum.c > datum.o","value":"#22f022"},"value":"#ff0000"}}},
  {"data": {"name":"ml"},
   "mark": {"type":"line","strokeWidth":1,"interpolate":"monotone"},
   "encoding": {"x":{"field":"x","type":"quantitative"},"y":{"field":"v","type":"quantitative"},"detail":{"field":"p"},
    "color":{"field":"s","type":"nominal","scale":{"domain":["g","w"],"range":["#c89a10","#c4c4c4"]},"legend":null}}},
  {"data": {"name":"tt"},
   "mark": {"type":"text","align":"center","baseline":"middle","fontSize":4.3,"color":"#9a9a9a"},
   "encoding": {"x":{"field":"x","type":"quantitative"},"y":{"datum":93.6},"text":{"field":"t"}}},
  {"data": {"name":"cd"},
   "mark": {"type":"text","align":"center","baseline":"middle","fontSize":3.8,"color":"#9a9a9a"},
   "encoding": {"x":{"field":"x","type":"quantitative"},"y":{"datum":4.9},"text":{"field":"t"}}},
  {"data": {"values": [{"x":1,"y":94.6,"t":"GBPCAD"}]},
   "mark": {"type":"text","align":"left","baseline":"middle","fontSize":3.8,"color":"#e0e0e0"},
   "encoding": {"x":{"field":"x","type":"quantitative"},"y":{"field":"y","type":"quantitative"},"text":{"field":"t"}}},
  {"data": {"values": [{"x":69.8,"y":46.1}]},
   "mark": {"type":"point","shape":"M0.42,0L0.388,0.383L0.297,0.707L0.161,0.924L0,1L-0.161,0.924L-0.297,0.707L-0.388,0.383L-0.42,0L-0.388,-0.383L-0.297,-0.707L-0.161,-0.924L0,-1L0.161,-0.924L0.297,-0.707L0.388,-0.383Z","size":1849,"filled":false,"color":"#ffffff","strokeWidth":1,"opacity":1},
   "encoding": {"x":{"field":"x","type":"quantitative"},"y":{"field":"y","type":"quantitative"}}},
  {"data": {"values": [{"x":69.1,"y":19,"t":"WCC"}]},
   "mark": {"type":"text","align":"center","baseline":"middle","fontSize":8,"font":"Liberation Serif","color":"#ffffff"},
   "encoding": {"x":{"field":"x","type":"quantitative"},"y":{"field":"y","type":"quantitative"},"text":{"field":"t"}}}
 ]
},
{
 "width": 607, "height": 42,
 "layer": [
  {"data": {"name":"gl"},
   "mark": {"type":"rule","color":"#008a00","strokeWidth":1},
   "encoding": {"x":{"field":"x","type":"quantitative","scale":{"domain":[0,194.24],"nice":false,"zero":false},"axis":null},
    "y":{"datum":15.3,"type":"quantitative","scale":{"domain":[-10.8,111],"nice":false,"zero":false},
     "axis":{"orient":"right","values":[105.2,4.6],"labelExpr":"datum.value > 50 ? '111' : '0.00'","labelOverlap":false,"tickCount":60}},
    "y2":{"datum":99.4}}},
  {"data": {"name":"pn"},
   "mark": {"type":"rule","color":"#7a7a7a","strokeDash":[1,2],"strokeWidth":1},
   "encoding": {"x":{"field":"a","type":"quantitative"},"x2":{"field":"b"},"y":{"datum":80}}},
  {"data": {"name":"pn"},
   "mark": {"type":"rule","color":"#7a7a7a","strokeDash":[1,2],"strokeWidth":1},
   "encoding": {"x":{"field":"a","type":"quantitative"},"x2":{"field":"b"},"y":{"datum":20}}},
  {"data": {"name":"sto"},
   "mark": {"type":"line","strokeWidth":1,"interpolate":"monotone"},
   "encoding": {"x":{"field":"x","type":"quantitative"},"y":{"field":"v","type":"quantitative"},"detail":{"field":"p"},
    "color":{"field":"s","type":"nominal","scale":{"domain":["sig","main"],"range":["#8a8a8a","#d8d000"]},"legend":null}}},
  {"data": {"name":"tt"},
   "mark": {"type":"text","align":"center","baseline":"middle","fontSize":4.3,"color":"#9a9a9a"},
   "encoding": {"x":{"field":"x","type":"quantitative"},"y":{"datum":98},"text":{"field":"t"}}},
  {"data": {"values": [{"x":1,"y":96.5,"t":"Sto GBPCAD"}]},
   "mark": {"type":"text","align":"left","baseline":"middle","fontSize":3.8,"color":"#e0e0e0"},
   "encoding": {"x":{"field":"x","type":"quantitative"},"y":{"field":"y","type":"quantitative"},"text":{"field":"t"}}}
 ]
},
{
 "width": 607, "height": 32,
 "layer": [
  {"data": {"name":"gl"},
   "mark": {"type":"rule","color":"#008a00","strokeWidth":1},
   "encoding": {"x":{"field":"x","type":"quantitative","scale":{"domain":[0,194.24],"nice":false,"zero":false},
     "axis":{"orient":"bottom","values":[0,7.632,15.584,23.536,31.488,39.44,47.392,55.344,63.296,71.248,79.2,87.152,95.104,103.056,111.008,118.96,126.912,134.864,142.816,150.768,158.72,166.672],
      "labelExpr":"['24 Aug 2021','26 Aug 04:00','27 Aug 12:00','30 Aug 20:00','1 Sep 04:00','2 Sep 12:00','3 Sep 20:00','7 Sep 04:00','8 Sep 12:00','9 Sep 20:00','13 Sep 04:00','14 Sep 12:00','15 Sep 20:00','17 Sep 04:00','20 Sep 12:00','21 Sep 20:00','23 Sep 04:00','24 Sep 12:00','27 Sep 20:00','29 Sep 04:00','30 Sep 12:00','1 Oct 20:00'][round((datum.value + 0.32) / 7.952)]",
      "labelAlign":"left","labelBaseline":"top","labelFontSize":3.6,"labelPadding":1,"tickSize":2,"domain":false,"labelOverlap":false,"labelFlush":false,"labelBound":false,"tickCount":60}},
    "y":{"datum":13.4,"type":"quantitative","scale":{"domain":[-0.5,111],"nice":false,"zero":false},
     "axis":{"orient":"right","values":[101.6,9.9],"labelExpr":"datum.value > 50 ? '115' : '0.87'","labelOverlap":false,"tickCount":60}},
    "y2":{"datum":97}}},
  {"data": {"name":"pn"},
   "mark": {"type":"rule","color":"#555555","strokeDash":[1,2],"strokeWidth":1},
   "encoding": {"x":{"field":"a","type":"quantitative"},"x2":{"field":"b"},"y":{"datum":32}}},
  {"data": {"name":"pn"},
   "mark": {"type":"rule","color":"#555555","strokeDash":[1,2],"strokeWidth":1},
   "encoding": {"x":{"field":"a","type":"quantitative"},"x2":{"field":"b"},"y":{"datum":68}}},
  {"data": {"name":"tt"},
   "mark": {"type":"text","align":"center","baseline":"middle","fontSize":4.3,"color":"#8a8a8a"},
   "encoding": {"x":{"field":"x","type":"quantitative"},"y":{"datum":100.5},"text":{"field":"t"}}},
  {"data": {"name":"tdi"},
   "mark": {"type":"line","strokeWidth":1.2,"interpolate":"monotone"},
   "encoding": {"x":{"field":"x","type":"quantitative"},"y":{"field":"v","type":"quantitative"},"detail":{"field":"p"},
    "color":{"field":"s","type":"nominal","scale":{"domain":["up","lo","mb","sig","rsi"],"range":["#1f7fbf","#1f7fbf","#ffff00","#ff0000","#00ff00"]},"legend":null}}},
  {"data": {"values": [{"x":1,"y":98.8,"t":"TDI GBPCAD"}]},
   "mark": {"type":"text","align":"left","baseline":"middle","fontSize":3.8,"color":"#e0e0e0"},
   "encoding": {"x":{"field":"x","type":"quantitative"},"y":{"field":"y","type":"quantitative"},"text":{"field":"t"}}}
 ]
}
]
}
